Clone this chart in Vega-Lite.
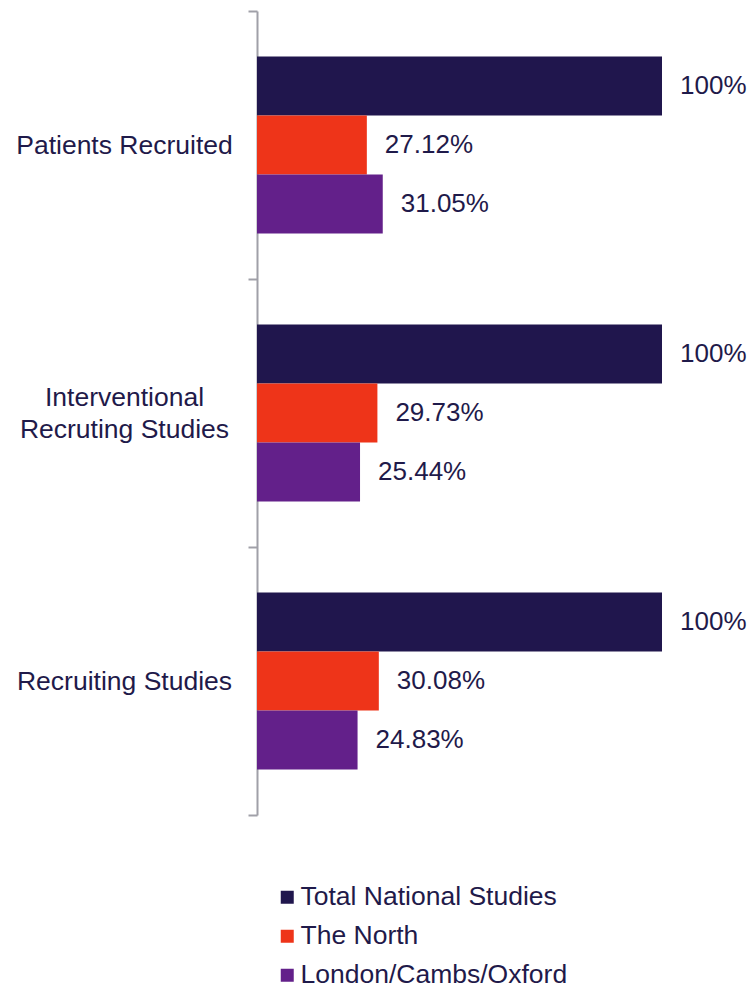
{
  "$schema": "https://vega.github.io/schema/vega-lite/v6.json",
  "autosize": {"type": "none"},
  "padding": {"left": 257, "top": 11, "right": 91, "bottom": 173},
  "width": 405,
  "height": 804,
  "background": "white",
  "config": {"view": {"stroke": null}, "font": "Liberation Sans"},
  "data": {
    "values": [
      {"measure": "Patients Recruited", "region": "Total National Studies", "value": 100, "label": "100%"},
      {"measure": "Patients Recruited", "region": "The North", "value": 27.12, "label": "27.12%"},
      {"measure": "Patients Recruited", "region": "London/Cambs/Oxford", "value": 31.05, "label": "31.05%"},
      {"measure": "Interventional Recruting Studies", "region": "Total National Studies", "value": 100, "label": "100%"},
      {"measure": "Interventional Recruting Studies", "region": "The North", "value": 29.73, "label": "29.73%"},
      {"measure": "Interventional Recruting Studies", "region": "London/Cambs/Oxford", "value": 25.44, "label": "25.44%"},
      {"measure": "Recruiting Studies", "region": "Total National Studies", "value": 100, "label": "100%"},
      {"measure": "Recruiting Studies", "region": "The North", "value": 30.08, "label": "30.08%"},
      {"measure": "Recruiting Studies", "region": "London/Cambs/Oxford", "value": 24.83, "label": "24.83%"}
    ]
  },
  "encoding": {
    "y": {
      "field": "measure",
      "type": "nominal",
      "sort": ["Patients Recruited", "Interventional Recruting Studies", "Recruiting Studies"],
      "scale": {"paddingInner": 0, "paddingOuter": 0},
      "axis": {
        "title": null,
        "tickBand": "extent",
        "domainColor": "#a0a0a8",
        "domainWidth": 2,
        "tickColor": "#a0a0a8",
        "tickWidth": 2,
        "tickSize": 9,
        "labelFont": "Liberation Sans",
        "labelFontSize": 26.5,
        "labelColor": "#1f1a4a",
        "labelAlign": "center",
        "labelPadding": 124,
        "labelLineHeight": 32,
        "labelLimit": 400,
        "labelOffset": {"condition": {"test": "datum.value == 'Interventional Recruting Studies'", "value": -16}, "value": 0},
        "labelExpr": "datum.label == 'Interventional Recruting Studies' ? ['Interventional', 'Recruting Studies'] : datum.label"
      }
    },
    "yOffset": {
      "field": "region",
      "type": "nominal",
      "sort": ["Total National Studies", "The North", "London/Cambs/Oxford"],
      "scale": {"paddingInner": 0, "paddingOuter": 0.77}
    },
    "x": {
      "field": "value",
      "type": "quantitative",
      "scale": {"domain": [0, 100]},
      "axis": null
    }
  },
  "layer": [
    {
      "mark": {"type": "bar"},
      "encoding": {
        "color": {
          "field": "region",
          "type": "nominal",
          "sort": ["Total National Studies", "The North", "London/Cambs/Oxford"],
          "scale": {
            "domain": ["Total National Studies", "The North", "London/Cambs/Oxford"],
            "range": ["#20164d", "#ee3419", "#63208a"]
          },
          "legend": {
            "title": null,
            "orient": "none",
            "legendX": 17,
            "legendY": 873,
            "symbolType": "square",
            "symbolSize": 169,
            "symbolStrokeWidth": 0,
            "labelFont": "Liberation Sans",
            "labelFontSize": 26.5,
            "labelColor": "#1f1a4a",
            "labelOffset": 0,
            "rowPadding": 12,
            "labelLimit": 400
          }
        }
      }
    },
    {
      "mark": {
        "type": "text",
        "align": "left",
        "baseline": "middle",
        "dx": 18,
        "font": "Liberation Sans",
        "fontSize": 26,
        "color": "#1f1a4a"
      },
      "encoding": {"text": {"field": "label"}}
    }
  ]
}
